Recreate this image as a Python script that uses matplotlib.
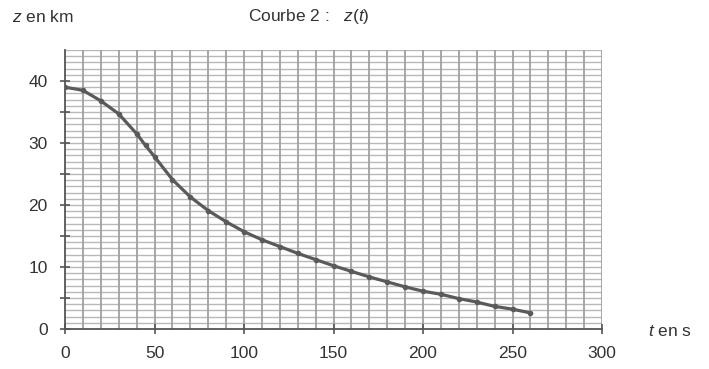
import matplotlib
matplotlib.use("Agg")
import matplotlib.pyplot as plt
import numpy as np

plt.rcParams["font.family"] = ["Liberation Sans", "DejaVu Sans"]
plt.rcParams["mathtext.fontset"] = "custom"
plt.rcParams["mathtext.rm"] = "Liberation Sans"
plt.rcParams["mathtext.it"] = "Liberation Sans:italic"

# --- Data --------------------------------------------------------------------
t_s = [0, 10, 20, 30, 40, 45, 50, 60, 70, 80, 90, 100, 110, 120, 130, 140,
       150, 160, 170, 180, 190, 200, 210, 220, 230, 240, 250, 260]
z_km = [39.0, 38.5, 36.8, 34.7, 31.5, 29.6, 27.8, 24.1, 21.3, 19.1, 17.3, 15.7,
        14.4, 13.3, 12.2, 11.2, 10.2, 9.3, 8.4, 7.6, 6.8, 6.1, 5.6, 4.9,
        4.35, 3.65, 3.2, 2.6]

x_major = [0, 50, 100, 150, 200, 250, 300]
y_major = [0, 10, 20, 30, 40]

TXT = "#333333"
GRID_V = "#a0a0a0"
GRID_H = "#b8b8b8"
CURVE = "#5a5a5a"
FS = 12.5

fig = plt.figure(figsize=(7.09, 3.69), dpi=100)
ax = fig.add_axes([65 / 709, 1 - 329 / 369, (602 - 65) / 709, (329 - 50) / 369])

ax.set_xlim(0, 300)
ax.set_ylim(0, 45)

# paper grid: every 10 s, every 1 km
for x in np.arange(10, 301, 10):
    ax.axvline(x, color=GRID_V, linewidth=1.3, zorder=1)
for y in np.arange(1, 46, 1):
    ax.axhline(y, color=GRID_H, linewidth=1.0, zorder=0)

ax.plot(t_s, z_km, color=CURVE, linewidth=2.3, zorder=3,
        marker="o", markersize=3, markerfacecolor=CURVE, markeredgecolor=CURVE,
        solid_joinstyle="round")

for side in ("top", "right"):
    ax.spines[side].set_visible(False)
for side in ("left", "bottom"):
    ax.spines[side].set_color("#555555")
    ax.spines[side].set_linewidth(1.3)

ax.set_xticks(x_major)
ax.set_xticklabels([str(v) for v in x_major])
ax.set_yticks(y_major)
ax.set_yticklabels([str(v) for v in y_major])
ax.set_yticks(np.arange(5, 45, 10), minor=True)
ax.tick_params(axis="both", which="both", direction="inout", length=7,
               width=1.2, color="#555555", labelsize=FS, labelcolor=TXT)
ax.tick_params(axis="y", pad=9)
ax.tick_params(axis="x", pad=9)

fig.text(12 / 709, 1 - 17 / 369, "$z$ en km", fontsize=FS, color=TXT, va="center")
fig.text(248 / 709, 1 - 17 / 369, "Courbe 2 :   $z$($t$)", fontsize=FS,
         color=TXT, va="center")
fig.text(648 / 709, 1 - 331 / 369, "$t$ en s", fontsize=FS, color=TXT, va="center")

fig.savefig("out.png", dpi=100)
